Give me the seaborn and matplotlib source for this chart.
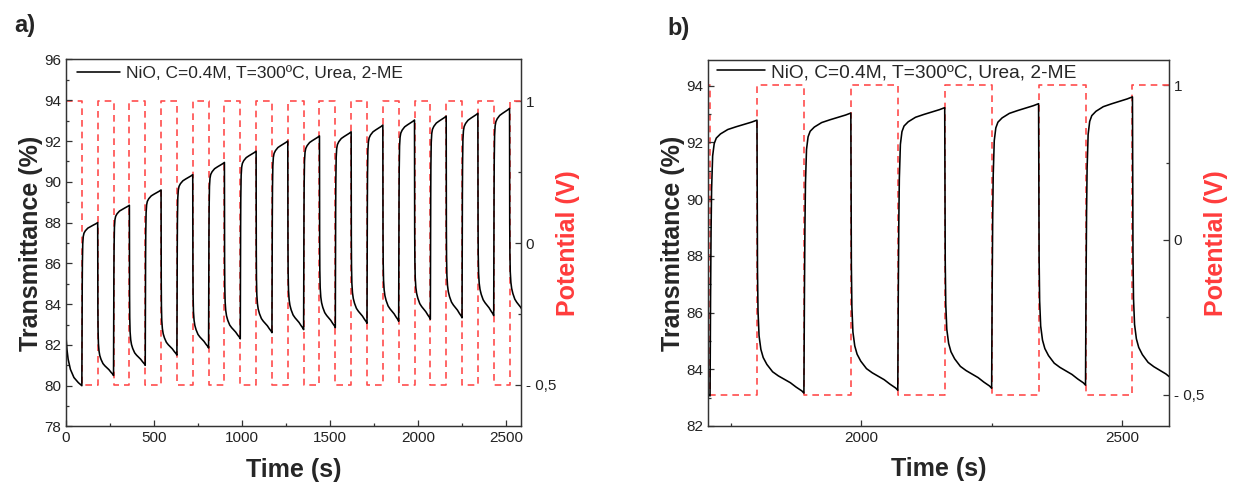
import numpy as np
import pandas as pd
import matplotlib
matplotlib.use("Agg")
import matplotlib.pyplot as plt
import seaborn as sns
from matplotlib.ticker import MultipleLocator, FixedLocator

# transmittance maxima (end of each bleaching step) and minima (end of each colouring step)
peak_t = [180, 360, 540, 720, 900, 1080, 1260, 1440, 1620, 1800, 1980, 2160, 2340, 2520]
peak_vals = [88.0, 88.85, 89.6, 90.35, 90.95, 91.5, 92.0, 92.25, 92.45, 92.78, 93.03, 93.22, 93.36, 93.6]
min_t = [90, 270, 450, 630, 810, 990, 1170, 1350, 1530, 1710, 1890, 2070, 2250, 2430, 2610]
min_vals = [80.0, 80.5, 81.0, 81.5, 81.85, 82.3, 82.6, 82.75, 82.85, 83.06, 83.16, 83.26, 83.33, 83.44, 83.45]

# first colouring step before the first switch
first_t = [0, 5, 12, 25, 45, 70, 90]
first_vals = [82.4, 81.8, 81.3, 80.8, 80.4, 80.15, 80.0]

# shape of one bleaching / colouring step (seconds after switch, fraction of swing)
rise_dt = [0, 1, 2, 3, 5, 8, 12, 20, 34, 50, 64, 80, 90]
rise_frac = [0, 0.35, 0.6, 0.75, 0.87, 0.915, 0.935, 0.95, 0.966, 0.976, 0.984, 0.993, 1.0]
fall_dt = [0, 0.5, 1, 2, 4, 7.5, 12, 19, 30, 41, 53, 64, 75, 86, 90]
fall_frac = [1.0, 0.7, 0.45, 0.3, 0.21, 0.16, 0.13, 0.105, 0.078, 0.063, 0.05, 0.038, 0.022, 0.008, 0]

# applied potential square wave
switch_t = [0, 90, 180, 270, 360, 450, 540, 630, 720, 810, 900, 990, 1080, 1170, 1260,
            1350, 1440, 1530, 1620, 1710, 1800, 1890, 1980, 2070, 2160, 2250, 2340,
            2430, 2520, 2620]
pot_levels = [1, -0.5, 1, -0.5, 1, -0.5, 1, -0.5, 1, -0.5, 1, -0.5, 1, -0.5, 1,
              -0.5, 1, -0.5, 1, -0.5, 1, -0.5, 1, -0.5, 1, -0.5, 1, -0.5, 1, 1]

legend_label = "NiO, C=0.4M, T=300ºC, Urea, 2-ME"

# build the transmittance trace
t_all = list(first_t)
v_all = list(first_vals)
for k in range(len(peak_vals)):
    lo, hi = min_vals[k], peak_vals[k]
    for dt, f in zip(rise_dt[1:], rise_frac[1:]):
        t_all.append(min_t[k] + dt)
        v_all.append(lo + f * (hi - lo))
    nxt = min_vals[k + 1]
    for dt, f in zip(fall_dt[1:], fall_frac[1:]):
        t_all.append(peak_t[k] + dt)
        v_all.append(nxt + f * (hi - nxt))
trace = pd.DataFrame({"time": t_all, "T": v_all})
pot = pd.DataFrame({"time": switch_t, "V": pot_levels})

sns.set_style("ticks")
plt.rcParams["font.family"] = ["Liberation Sans", "DejaVu Sans"]
plt.rcParams["axes.edgecolor"] = "#333333"
plt.rcParams["axes.linewidth"] = 0.9

red = "#ff4d4d"
fig = plt.figure(figsize=(12.34, 4.91), dpi=100)

panels = [
    dict(rect=[0.0535, 0.1314, 0.3687, 0.7475], xlim=(0, 2585), ylim=(78, 96),
         xmaj=500, xmin=250, ylim2=(-0.72, 1.222), leg=(0.024, 0.982), legfs=12.5,
         tag="a)", tagxy=(0.0203, 0.949)),
    dict(rect=[0.5737, 0.1324, 0.3736, 0.7454], xlim=(1706, 2590), ylim=(82, 94.9),
         xmaj=500, xmin=250, ylim2=(-0.65, 1.121), leg=(0.0195, 0.99), legfs=13.8,
         tag="b)", tagxy=(0.550, 0.941)),
]

for p in panels:
    ax = fig.add_axes(p["rect"])
    ax2 = ax.twinx()
    sns.lineplot(data=pot, x="time", y="V", ax=ax2, color=red, lw=1.2,
                 drawstyle="steps-post", linestyle=(0, (4, 3)), estimator=None, sort=False)
    sns.lineplot(data=trace, x="time", y="T", ax=ax, color="black", lw=1.15,
                 estimator=None, sort=False, label=legend_label)
    ax.set_zorder(ax2.get_zorder() + 1)
    ax.patch.set_visible(False)

    ax.set_xlim(*p["xlim"])
    ax.set_ylim(*p["ylim"])
    ax2.set_ylim(*p["ylim2"])
    ax.xaxis.set_major_locator(MultipleLocator(p["xmaj"]))
    ax.xaxis.set_minor_locator(MultipleLocator(p["xmin"]))
    ax.yaxis.set_major_locator(MultipleLocator(2))
    ax.yaxis.set_minor_locator(MultipleLocator(1))
    ax2.yaxis.set_major_locator(FixedLocator([1, 0.25, -0.5]))
    ax2.set_yticklabels(["1", "0", "- 0,5"])
    ax2.yaxis.set_minor_locator(FixedLocator([0.625, -0.125]))

    for a in (ax, ax2):
        a.tick_params(which="both", direction="in", labelsize=11, labelcolor="#222222",
                      color="#333333", width=0.9)
        a.tick_params(which="major", length=4.5)
        a.tick_params(which="minor", length=2.5)
    ax.tick_params(which="both", top=False, right=False)
    ax2.tick_params(which="both", left=False, right=True, top=False, bottom=False)

    ax.set_xlabel("Time (s)", fontsize=18, fontweight="bold", labelpad=9)
    ax.set_ylabel("Transmittance (%)", fontsize=18, fontweight="bold", labelpad=1)
    ax2.set_ylabel("Potential (V)", fontsize=18, fontweight="bold", color="#ff3c3c",
                   rotation=90, labelpad=0)

    ax.legend(loc="upper left", bbox_to_anchor=p["leg"], frameon=False,
              fontsize=p["legfs"], handlelength=2.5, handletextpad=0.3,
              borderaxespad=0, borderpad=0)
    fig.text(*p["tagxy"], p["tag"], fontsize=17, fontweight="bold", ha="center", va="center")

fig.savefig("out.png", dpi=100)
